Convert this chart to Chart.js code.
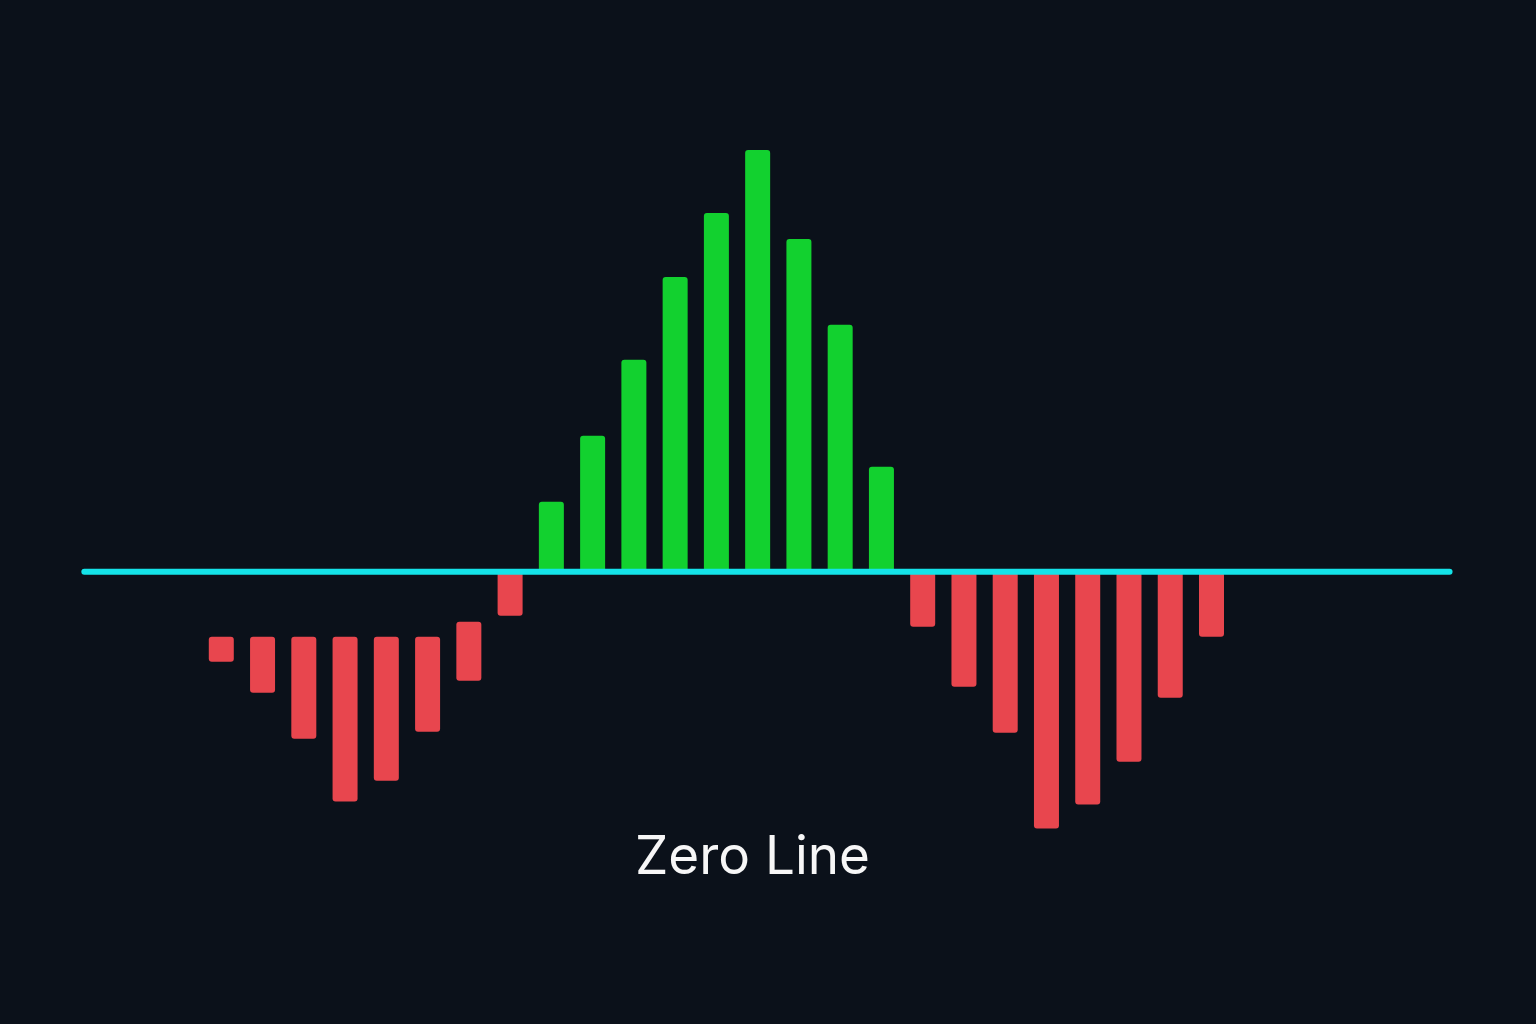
<!DOCTYPE html>
<html>
<head>
<meta charset="utf-8">
<title>Zero Line</title>
<script src="https://cdn.jsdelivr.net/npm/chart.js@4.4.1/dist/chart.umd.min.js"></script>
<style>
  html, body { margin: 0; padding: 0; background: #0b111a; }
  #wrap { width: 1536px; height: 1024px; }
</style>
</head>
<body>
<div id="wrap"><canvas id="histChart" width="1536" height="1024"></canvas></div>
<script>
// bar positions along the axis (one slot per bar)
var barSlots = [1, 2, 3, 4, 5, 6, 7, 8, 9, 10, 11, 12, 13, 14, 15, 16, 17, 18, 19, 20, 21, 22, 23, 24, 25];
// where each bar starts (left red bars hang below the zero line)
var barStart = [-6.5, -6.5, -6.5, -6.5, -6.5, -6.5, -5.0, 0, 0, 0, 0, 0, 0, 0, 0, 0, 0, 0, 0, 0, 0, 0, 0, 0, 0];
// where each bar ends
var barEnd = [-9.0, -12.1, -16.7, -23.0, -20.9, -16.0, -10.9, -4.4,
  7.0, 13.6, 21.2, 29.5, 35.9, 42.2, 33.3, 24.7, 10.5,
  -5.5, -11.5, -16.1, -25.7, -23.3, -19.0, -12.6, -6.5];
// zero line ends
var zeroLineX = [-2.32, 30.77];
var zeroLineY = [0, 0];

var GREEN = '#12d12f';
var RED = '#e8464e';
var CYAN = '#14e3e8';

document.addEventListener('DOMContentLoaded', function() {
  var bars = barSlots.map(function(x, i) {
    return { x: x, y: [barStart[i], barEnd[i]] };
  });
  var colors = barEnd.map(function(v) { return v > 0 ? GREEN : RED; });
  var zeroLine = zeroLineX.map(function(x, i) { return { x: x, y: zeroLineY[i] }; });

  var ctx = document.getElementById('histChart').getContext('2d');
  new Chart(ctx, {
    type: 'bar',
    data: {
      datasets: [
        {
          type: 'line',
          data: zeroLine,
          borderColor: CYAN,
          borderWidth: 6,
          borderCapStyle: 'round',
          pointRadius: 0,
          order: 0
        },
        {
          data: bars,
          backgroundColor: colors,
          borderRadius: 3,
          borderSkipped: false,
          categoryPercentage: 1,
          barPercentage: 0.606,
          order: 1
        }
      ]
    },
    options: {
      responsive: false,
      animation: false,
      layout: { padding: { top: 72, left: 15, right: 46, bottom: 145 } },
      scales: {
        x: { type: 'linear', display: false, offset: false, min: -4, max: 31.75 },
        y: { display: false, min: -26, max: 50 }
      },
      plugins: {
        legend: { display: false },
        tooltip: { enabled: false },
        title: {
          display: true,
          position: 'bottom',
          text: 'Zero Line',
          color: '#f7f7f7',
          font: { family: 'Inter', size: 53, weight: 'normal', lineHeight: 0.8 },
          padding: { top: 5, bottom: 0 }
        }
      }
    }
  });
});
</script>
</body>
</html>
